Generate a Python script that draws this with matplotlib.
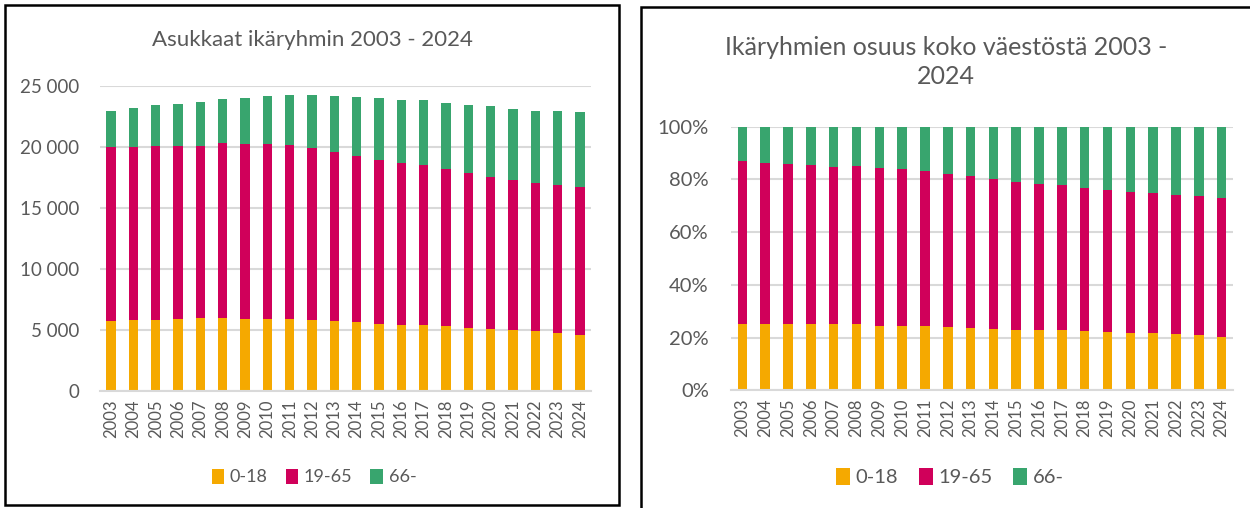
import numpy as np
import matplotlib.pyplot as plt
from matplotlib.patches import Rectangle
from matplotlib.ticker import FuncFormatter, PercentFormatter

plt.rcParams['font.family'] = ['Lato', 'DejaVu Sans']

years = [str(y) for y in range(2003, 2025)]
ika_0_18 = [5760, 5820, 5850, 5900, 5980, 5980, 5900, 5900, 5900, 5850, 5710,
            5630, 5490, 5440, 5440, 5300, 5160, 5080, 5030, 4890, 4780, 4620]
ika_19_65 = [14220, 14210, 14260, 14210, 14130, 14350, 14370, 14370, 14290, 14040, 13910,
             13660, 13470, 13250, 13090, 12870, 12710, 12430, 12270, 12160, 12130, 12080]
ika_66 = [3000, 3190, 3310, 3390, 3610, 3600, 3750, 3880, 4050, 4350, 4530,
          4780, 5030, 5160, 5300, 5460, 5600, 5820, 5820, 5930, 6070, 6170]
groups = ['0-18', '19-65', '66-']
colors = ['#F5A900', '#D0005A', '#38A56E']

grey = '#595959'
W, H = 1250, 508
fig = plt.figure(figsize=(12.5, 5.08), dpi=100)

# panel frames
fig.patches.append(Rectangle((5 / W, 1 - 505 / H), 614 / W, 500 / H, transform=fig.transFigure,
                             fill=False, ec='black', lw=1.8, zorder=0))
fig.patches.append(Rectangle((641 / W, -0.01), 0.5, 1 - 7 / H + 0.01, transform=fig.transFigure,
                             fill=False, ec='black', lw=1.8, zorder=0))

counts = np.array([ika_0_18, ika_19_65, ika_66], dtype=float)
shares = counts / counts.sum(axis=0)
x = np.arange(len(years))


def style(ax):
    for s in ['top', 'right', 'left']:
        ax.spines[s].set_visible(False)
    ax.spines['bottom'].set_color('#D9D9D9')
    ax.spines['bottom'].set_linewidth(1.5)
    ax.grid(axis='y', color='#D9D9D9', lw=1.5)
    ax.set_axisbelow(True)
    ax.tick_params(length=0, colors=grey)
    ax.set_xlim(-0.5, len(years) - 0.5)
    ax.set_xticks(x)
    ax.set_xticklabels(years, rotation=90, fontsize=12, color=grey)
    for lab in ax.get_yticklabels():
        lab.set_color(grey)


def stack(ax, data):
    bottom = np.zeros(len(years))
    handles = []
    for vals, c, g in zip(data, colors, groups):
        h = ax.bar(x, vals, bottom=bottom, width=0.42, color=c, label=g)
        bottom += vals
        handles.append(h)
    return handles


# left: counts
ax1 = fig.add_axes([100 / W, 1 - 391 / H, 491 / W, 305 / H])
h = stack(ax1, counts)
ax1.set_ylim(0, 25000)
ax1.set_yticks(range(0, 25001, 5000))
ax1.yaxis.set_major_formatter(FuncFormatter(lambda v, p: f'{int(v):,}'.replace(',', ' ')))
style(ax1)
ax1.tick_params(axis='y', labelsize=13.5, pad=15)
ax1.tick_params(axis='x', pad=6)
fig.text(312 / W, 1 - 40 / H, 'Asukkaat ikäryhmin 2003 - 2024', ha='center', va='center',
         fontsize=16, color=grey)
fig.legend(h, groups, loc='center', bbox_to_anchor=(314 / W, 1 - 477 / H), ncol=3, frameon=False,
           fontsize=13, labelcolor=grey, handlelength=0.7, handleheight=0.9,
           handletextpad=0.3, columnspacing=1.0)

# right: shares
ax2 = fig.add_axes([731 / W, 1 - 390.3 / H, 502 / W, 263.6 / H])
h = stack(ax2, shares)
ax2.set_ylim(0, 1)
ax2.set_yticks(np.arange(0, 1.01, 0.2))
ax2.yaxis.set_major_formatter(PercentFormatter(1.0, decimals=0))
style(ax2)
ax2.tick_params(axis='y', labelsize=14.5, pad=16)
ax2.tick_params(axis='x', pad=6)
fig.text(946 / W, 1 - 62 / H, 'Ikäryhmien osuus koko väestöstä 2003 -\n2024', ha='center',
         va='center', fontsize=18, color=grey, linespacing=1.35)
fig.legend(h, groups, loc='center', bbox_to_anchor=(950 / W, 1 - 477 / H), ncol=3, frameon=False,
           fontsize=14.5, labelcolor=grey, handlelength=0.7, handleheight=0.9,
           handletextpad=0.3, columnspacing=1.0)

fig.savefig('out.png', dpi=100)
